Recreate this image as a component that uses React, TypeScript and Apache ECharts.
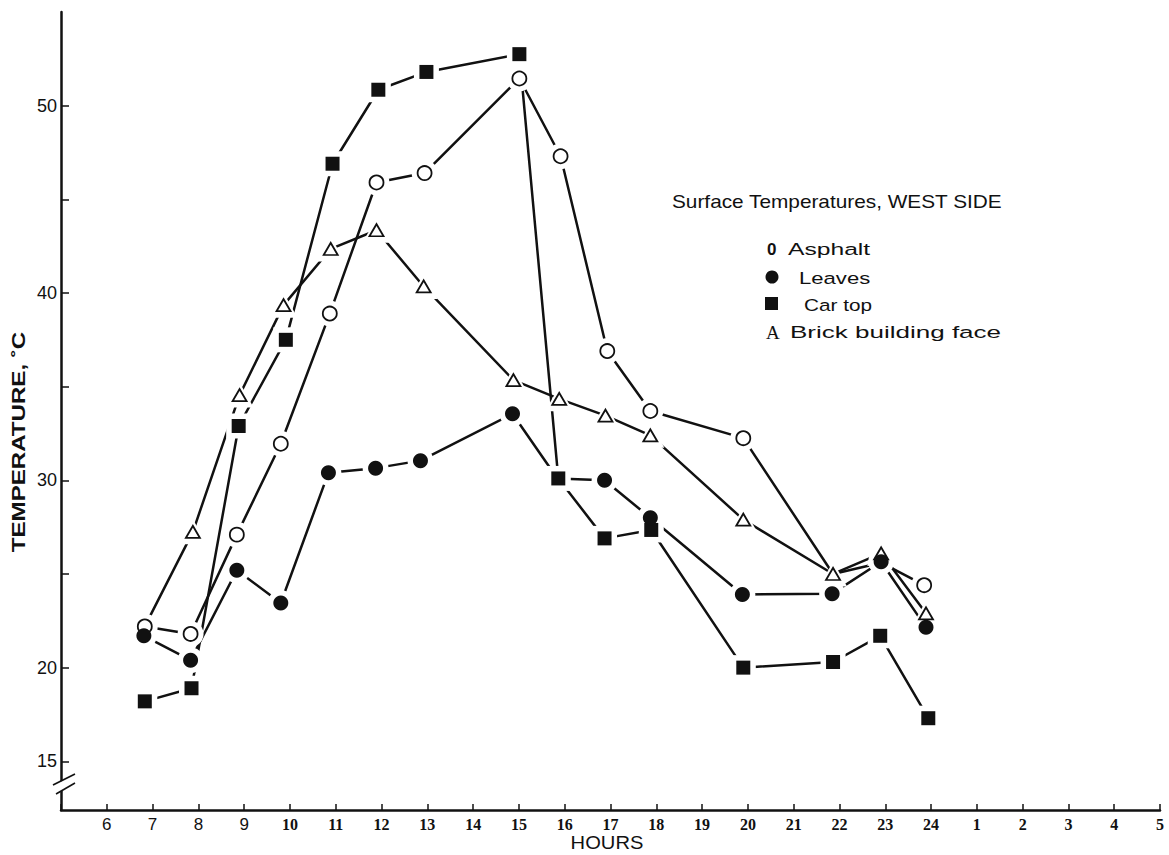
import React, { useEffect, useRef } from 'react';
import * as echarts from 'echarts';

// ---------- data ----------
const hourLabels = ['6', '7', '8', '9', '10', '11', '12', '13', '14', '15', '16', '17', '18', '19', '20', '21', '22', '23', '24', '1', '2', '3', '4', '5'];

const asphaltHours = [6.83, 7.83, 8.84, 9.8, 10.87, 11.89, 12.94, 15.01, 15.91, 16.93, 17.87, 19.9, 21.86, 22.91, 23.85];
const asphaltTemps = [22.2, 21.8, 27.1, 31.95, 38.9, 45.9, 46.4, 51.45, 47.3, 36.9, 33.7, 32.25, 25.0, 25.6, 24.4];
const asphaltCovered = [21.86, 22.91];

const leavesHours = [6.81, 7.83, 8.84, 9.8, 10.84, 11.87, 12.85, 14.86, 15.84, 16.87, 17.87, 19.88, 21.84, 22.91, 23.89];
const leavesTemps = [21.7, 20.4, 25.2, 23.45, 30.4, 30.65, 31.05, 33.55, 30.1, 30.0, 28.0, 23.9, 23.95, 25.65, 22.15];
const leavesCovered = [15.84];

const carHours = [6.83, 7.85, 8.88, 9.91, 10.93, 11.93, 12.98, 15.01, 15.86, 16.87, 17.89, 19.9, 21.86, 22.89, 23.94];
const carTemps = [18.2, 18.9, 32.9, 37.5, 46.9, 50.85, 51.8, 52.75, 30.1, 26.9, 27.35, 20.0, 20.3, 21.7, 17.3];
const carCovered: number[] = [];

const brickHours = [6.83, 7.88, 8.9, 9.86, 10.89, 11.89, 12.92, 14.88, 15.88, 16.89, 17.87, 19.9, 21.86, 22.91, 23.89];
const brickTemps = [22.2, 27.25, 34.55, 39.35, 42.35, 43.35, 40.35, 35.35, 34.35, 33.45, 32.4, 27.9, 25.0, 26.1, 22.9];
const brickCovered = [6.83];

const yLabelValues = [15, 20, 30, 40, 50];
const yTickValues = [15, 20, 25, 30, 35, 40, 45, 50];

const titleText = 'Surface Temperatures, WEST SIDE';
const legendNames = ['Asphalt', 'Leaves', 'Car top', 'Brick building face'];

// ---------- helpers ----------
const pairs = (xs: number[], ys: number[]) => xs.map((x, i) => [x, ys[i]]);
const visible = (xs: number[], ys: number[], covered: number[]) =>
  xs.map((x, i) => [x, ys[i]]).filter((p) => !covered.includes(p[0] as number));

const INK = '#111';
const HALO = '#ffffff';

export default function App() {
  const ref = useRef<HTMLDivElement>(null);

  useEffect(() => {
    if (!ref.current) return;
    const chart = echarts.init(ref.current, undefined, { renderer: 'svg' });

    const lineSeries = (name: string, xs: number[], ys: number[]) => ({
      name,
      type: 'line',
      data: pairs(xs, ys),
      symbol: 'none',
      z: 2,
      lineStyle: { color: INK, width: 2.5 },
    });
    // white halos so that the segments stop short of the markers, as in the print
    const haloSeries = (xs: number[], ys: number[], cov: number[], symbol: string) => ({
      type: 'scatter',
      data: visible(xs, ys, cov),
      symbol,
      symbolSize: symbol === 'triangle' ? [28, 25] : symbol === 'rect' ? 25 : 26,
      z: 3,
      itemStyle: { color: HALO, opacity: 1 },
      silent: true,
    });
    const markerSeries = (name: string, xs: number[], ys: number[], cov: number[], symbol: string, filled: boolean, size: any, z: number) => ({
      name,
      type: 'scatter',
      data: visible(xs, ys, cov),
      symbol,
      symbolSize: size,
      z,
      itemStyle: filled
        ? { color: INK, opacity: 1 }
        : { color: '#fff', borderColor: INK, borderWidth: 1.8, opacity: 1 },
    });

    const sans = 'Liberation Sans, Arial, sans-serif';
    const serif = 'Liberation Serif, Times New Roman, serif';

    chart.setOption({
      animation: false,
      backgroundColor: '#fff',
      grid: { left: 61, top: 12, width: 1099, height: 798, containLabel: false },
      xAxis: {
        type: 'value',
        min: 5,
        max: 29,
        interval: 1,
        splitLine: { show: false },
        axisLine: { show: true, lineStyle: { color: INK, width: 2.5 } },
        axisTick: { show: true, inside: true, length: 6, lineStyle: { color: INK, width: 1.5 } },
        axisLabel: {
          margin: 6,
          showMinLabel: true,
          showMaxLabel: true,
          formatter: (v: number) => {
            const idx = Math.round(v) - 6;
            if (idx < 0 || idx >= hourLabels.length) return '';
            const lab = hourLabels[idx];
            return v <= 9 ? '{s|' + lab + '}' : '{b|' + lab + '}';
          },
          rich: {
            s: { fontFamily: sans, fontSize: 17, color: INK },
            b: { fontFamily: serif, fontSize: 16, fontWeight: 'bold', color: INK },
          },
        },
      },
      yAxis: {
        type: 'value',
        min: 12.4,
        max: 55,
        splitLine: { show: false },
        axisLine: { show: true, lineStyle: { color: INK, width: 2.5 } },
        axisTick: { show: true, inside: true, length: 8, customValues: yTickValues, lineStyle: { color: INK, width: 1.5 } },
        axisLabel: { customValues: yLabelValues, margin: 4, fontFamily: sans, fontSize: 18, color: INK },
      },
      series: [
        lineSeries('Asphalt line', asphaltHours, asphaltTemps),
        lineSeries('Leaves line', leavesHours, leavesTemps),
        lineSeries('Car top line', carHours, carTemps),
        lineSeries('Brick line', brickHours, brickTemps),
        haloSeries(asphaltHours, asphaltTemps, asphaltCovered, 'circle'),
        haloSeries(leavesHours, leavesTemps, leavesCovered, 'circle'),
        haloSeries(carHours, carTemps, carCovered, 'rect'),
        haloSeries(brickHours, brickTemps, brickCovered, 'triangle'),
        markerSeries('Asphalt', asphaltHours, asphaltTemps, asphaltCovered, 'circle', false, 14, 4),
        markerSeries('Car top', carHours, carTemps, carCovered, 'rect', true, 14, 5),
        markerSeries('Brick building face', brickHours, brickTemps, brickCovered, 'triangle', false, [14, 12], 6),
        markerSeries('Leaves', leavesHours, leavesTemps, leavesCovered, 'circle', true, 15, 7),
      ],
      graphic: [
        { type: 'polygon', z: 100, shape: { points: [[54, 785], [76, 774], [76, 783], [56, 794]] }, style: { fill: '#fff' } },
        { type: 'line', z: 101, shape: { x1: 53, y1: 785, x2: 75, y2: 774 }, style: { stroke: INK, lineWidth: 1.6 } },
        { type: 'line', z: 101, shape: { x1: 56, y1: 794, x2: 75, y2: 783 }, style: { stroke: INK, lineWidth: 1.6 } },
        {
          type: 'text', z: 100, x: 19, y: 442, rotation: Math.PI / 2, scaleX: 1.34,
          style: { text: 'TEMPERATURE, ˚C', fontFamily: sans, fontSize: 18, fontWeight: 'bold', fill: INK, align: 'center', verticalAlign: 'middle' },
        },
        {
          type: 'text', z: 100, x: 607, y: 843, scaleX: 1.12,
          style: { text: 'HOURS', fontFamily: sans, fontSize: 18, fill: INK, align: 'center', verticalAlign: 'middle' },
        },
        {
          type: 'text', z: 100, x: 672, y: 202, scaleX: 1.156,
          style: { text: titleText, fontFamily: sans, fontSize: 18, fill: INK, align: 'left', verticalAlign: 'middle' },
        },
        {
          type: 'text', z: 100, x: 767, y: 249,
          style: { text: '0', fontFamily: sans, fontSize: 17, fontWeight: 'bold', fill: INK, align: 'left', verticalAlign: 'middle' },
        },
        {
          type: 'text', z: 100, x: 788, y: 249, scaleX: 1.45,
          style: { text: legendNames[0], fontFamily: sans, fontSize: 17, fill: INK, align: 'left', verticalAlign: 'middle' },
        },
        { type: 'circle', z: 100, shape: { cx: 772, cy: 277, r: 6.5 }, style: { fill: INK } },
        {
          type: 'text', z: 100, x: 799, y: 278, scaleX: 1.3,
          style: { text: legendNames[1], fontFamily: sans, fontSize: 17, fill: INK, align: 'left', verticalAlign: 'middle' },
        },
        { type: 'rect', z: 100, shape: { x: 765, y: 297, width: 13, height: 13 }, style: { fill: INK } },
        {
          type: 'text', z: 100, x: 804, y: 305, scaleX: 1.22,
          style: { text: legendNames[2], fontFamily: sans, fontSize: 17, fill: INK, align: 'left', verticalAlign: 'middle' },
        },
        {
          type: 'text', z: 100, x: 766, y: 332,
          style: { text: 'A', fontFamily: serif, fontSize: 19, fill: INK, align: 'left', verticalAlign: 'middle' },
        },
        {
          type: 'text', z: 100, x: 790, y: 332, scaleX: 1.53,
          style: { text: legendNames[3], fontFamily: sans, fontSize: 17, fill: INK, align: 'left', verticalAlign: 'middle' },
        },
      ],
    });

    return () => chart.dispose();
  }, []);

  return (
    <div
      ref={ref}
      style={{ position: 'fixed', left: 0, top: 0, width: 1169, height: 855, background: '#fff' }}
    />
  );
}
